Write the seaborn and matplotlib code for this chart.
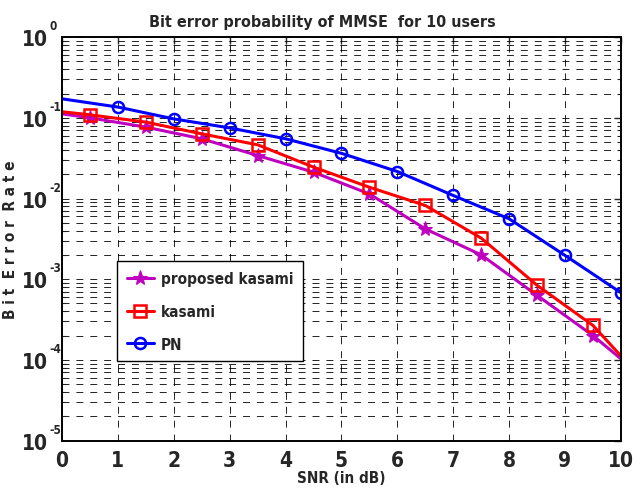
import numpy as np
import pandas as pd
import matplotlib
matplotlib.use("Agg")
import matplotlib.pyplot as plt
import matplotlib.transforms as mtransforms
import seaborn as sns
from matplotlib.ticker import LogLocator, NullFormatter, FixedLocator
from matplotlib import font_manager

# valeurs
snr_pn = [0, 1, 2, 3, 4, 5, 6, 7, 8, 9, 10]
ber_pn = [0.172, 0.136, 0.097, 0.075, 0.055, 0.0363, 0.0216, 0.0109, 0.0056, 0.00197, 0.00068]

snr_half = [0, 0.5, 1.5, 2.5, 3.5, 4.5, 5.5, 6.5, 7.5, 8.5, 9.5, 10]
ber_kasami = [0.119, 0.109, 0.0885, 0.0633, 0.0463, 0.0245, 0.0138, 0.0082, 0.00323, 0.00084, 0.000267, 0.000112]
ber_proposed = [0.112, 0.100, 0.0767, 0.055, 0.0341, 0.0212, 0.0114, 0.0042, 0.0020, 0.00063, 0.0002, 0.000103]

x_ticks = list(range(0, 11))
y_ticks = [1e-5, 1e-4, 1e-3, 1e-2, 1e-1, 1e0]
y_exposants = ["-5", "-4", "-3", "-2", "-1", "0"]

# police étroite si disponible
narrow = [f.name for f in font_manager.fontManager.ttflist if f.stretch == 'condensed']
fam = 'Liberation Sans' if 'Liberation Sans' in narrow else ('DejaVu Sans' if 'DejaVu Sans' in narrow else (narrow[0] if narrow else 'Liberation Sans'))

sns.set_style("white")
plt.rcParams['font.family'] = [fam, 'DejaVu Sans']
plt.rcParams['font.stretch'] = 'condensed'
plt.rcParams['font.weight'] = 'bold'
plt.rcParams['lines.scale_dashes'] = False

fig = plt.figure(figsize=(6.41, 4.89), dpi=100)
ax = fig.add_axes([0.0967, 0.097, 0.872, 0.825])

sns.lineplot(x=snr_half, y=ber_proposed, ax=ax, color=(0.75, 0, 0.75), lw=2.2,
             marker='*', markersize=11, markevery=slice(1, -1), mec=(0.75, 0, 0.75),
             label='proposed kasami')
sns.lineplot(x=snr_half, y=ber_kasami, ax=ax, color='red', lw=2.2,
             marker='s', markersize=8, mfc='none', mew=1.8, mec='red',
             markevery=slice(1, -1), label='kasami')
sns.lineplot(x=snr_pn, y=ber_pn, ax=ax, color='blue', lw=2.2,
             marker='o', markersize=8, mfc='none', mew=1.8, mec='blue',
             markevery=slice(1, None), label='PN')

ax.set_yscale('log')
ax.set_xlim(0, 10)
ax.set_ylim(1e-5, 1)
ax.xaxis.set_major_locator(FixedLocator(x_ticks))
ax.set_xticklabels([str(t) for t in x_ticks])
ax.yaxis.set_major_locator(FixedLocator(y_ticks))
ax.set_yticklabels(["10"] * len(y_ticks))
ax.yaxis.set_minor_locator(LogLocator(base=10, subs=np.arange(2, 10)))
ax.yaxis.set_minor_formatter(NullFormatter())

# exposants façon matlab
trans = mtransforms.offset_copy(ax.get_yaxis_transform(), fig=fig, x=0, y=5, units='dots')
for v, e in zip(y_ticks, y_exposants):
    ax.text(-0.022, v, e, transform=trans, ha='left', va='bottom', fontsize=8.5,
            fontweight='bold', clip_on=False)

ax.grid(True, which='major', axis='both', color='black', lw=0.6, linestyle=(0, (5, 5)))
ax.grid(True, which='minor', axis='y', color='black', lw=0.6, linestyle=(0, (5, 5)))
ax.set_axisbelow(True)

ax.tick_params(which='major', direction='in', length=5, width=1, top=True, right=True,
               labelsize=15)
ax.tick_params(axis='y', which='major', pad=10)
ax.tick_params(axis='x', which='major', pad=7)
ax.tick_params(which='minor', direction='in', length=3, width=0.8, left=True, right=True)
for s in ax.spines.values():
    s.set_linewidth(1.4)
    s.set_color('black')

ax.set_title("Bit error probability of MMSE  for 10 users", fontsize=11.5,
             fontweight='bold', x=0.465, pad=8)
ax.set_xlabel("SNR (in dB)", fontsize=11, fontweight='bold', labelpad=0)
ax.set_ylabel("B i t  E r r o r  R a t e", fontsize=11, fontweight='bold', labelpad=3)

leg = ax.legend(loc='lower left', bbox_to_anchor=(0.098, 0.196), borderaxespad=0,
                fontsize=11, frameon=True, fancybox=False, edgecolor='black', framealpha=1,
                handlelength=1.8, labelspacing=1.15, borderpad=0.65, handletextpad=0.45)
leg.get_frame().set_linewidth(1.0)
for t in leg.get_texts():
    t.set_fontweight('bold')

fig.savefig("out.png", dpi=100)
